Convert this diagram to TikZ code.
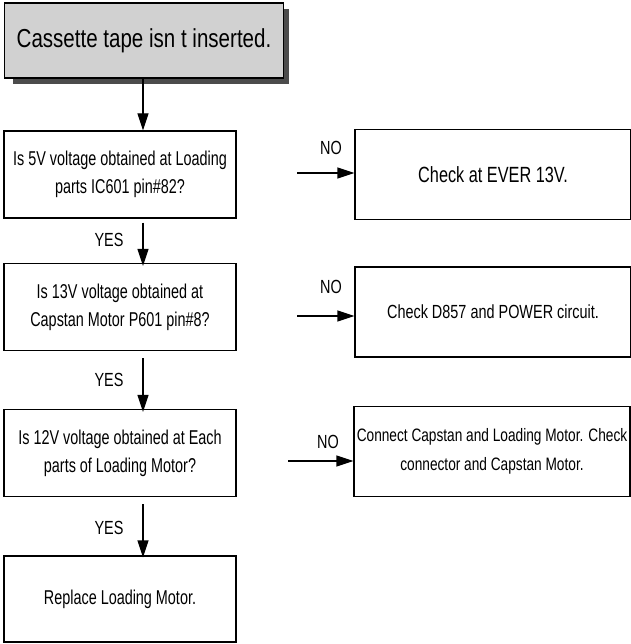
\documentclass[tikz,border=0pt]{standalone}
\usepackage{fontspec}
\setmainfont{Liberation Sans}[FakeStretch=0.72]
\newfontfamily\topfont{Liberation Sans}[FakeStretch=0.79]
\newfontfamily\rfont{Liberation Sans}[FakeStretch=0.74]
\newfontfamily\rrfont{Liberation Sans}[FakeStretch=0.76]
\usetikzlibrary{arrows.meta}
\begin{document}
\begin{tikzpicture}[x=1pt,y=-1pt,
  box/.style={draw=black,line width=1.2pt,fill=white,minimum width=232pt,minimum height=87pt,align=center,inner sep=0pt,font=\fontsize{20}{28}\selectfont},
  rbox/.style={draw=black,line width=1.2pt,fill=white,minimum width=276pt,minimum height=90pt,align=center,inner sep=0pt,font=\rfont\fontsize{22}{28}\selectfont},
  arr/.style={line width=1.2pt,-{Triangle[length=17pt,width=11pt]}},
  lbl/.style={font=\rrfont\fontsize{19}{20}\selectfont,inner sep=0pt}]
\useasboundingbox (0,0) rectangle (630,644);
\fill[black!70] (13,9) rectangle (289,84);
\node[draw=black,line width=1.2pt,fill=black!18,minimum width=279pt,minimum height=75pt,inner sep=0pt,font=\topfont\fontsize{26}{30}\selectfont] (start) at (144,40.5) {Cassette tape isn t inserted.};
\node[box] (q1) at (120,174.5) {Is 5V voltage obtained at Loading\\parts IC601 pin\#82?};
\node[box] (q2) at (120,307) {Is 13V voltage obtained at\\Capstan Motor P601 pin\#8?};
\node[box] (q3) at (120,453) {Is 12V voltage obtained at Each\\parts of Loading Motor?};
\node[box,minimum height=86pt] (q4) at (120,599) {Replace Loading Motor.};
\node[rbox] (r1) at (493,174.5) {Check at EVER 13V.};
\node[rbox,font=\rrfont\fontsize{19}{28}\selectfont] (r2) at (493,312) {Check D857 and POWER circuit.};
\node[rbox,font=\rrfont\fontsize{18}{29}\selectfont] (r3) at (492,451.5) {Connect Capstan and Loading Motor. Check\\connector and Capstan Motor.};
\coordinate (a1s) at (143,222);
\coordinate (a2s) at (143,360);
\coordinate (a3s) at (143,505);
\coordinate (b1s) at (297,173);
\coordinate (b2s) at (297,316);
\coordinate (b3s) at (288,461);
\draw[arr] (start.south -| a1s) -- (q1.north -| a1s);
\draw[arr] (q1.south -| a1s) ++(0,4) -- ([yshift=-3pt]q2.north -| a1s);
\draw[arr] (q2.south -| a2s) ++(0,7) -- ([yshift=-3pt]q3.north -| a2s);
\draw[arr] (q3.south -| a3s) ++(0,7) -- ([yshift=-2pt]q4.north -| a3s);
\draw[arr] (b1s) -- (r1.west |- b1s);
\draw[arr] (b2s) -- (r2.west |- b2s);
\draw[arr] (b3s) -- (r3.west |- b3s);
\node[lbl] (n1) at (331,148) {NO};
\node[lbl] (n2) at (331,287) {NO};
\node[lbl] (n3) at (328,442) {NO};
\node[lbl] (y1) at (109,240) {YES};
\node[lbl] (y2) at (109,380) {YES};
\node[lbl] (y3) at (109,528) {YES};
\end{tikzpicture}
\end{document}
